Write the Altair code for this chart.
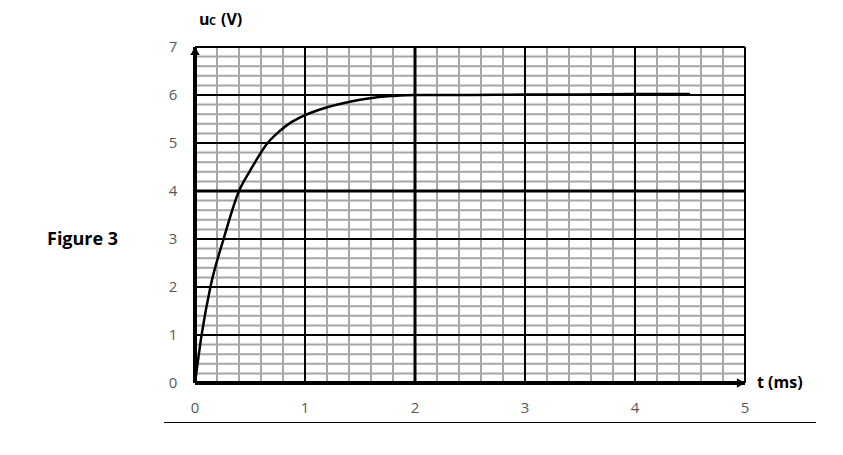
import altair as alt
import pandas as pd

# curve
t_ms = [0, 0.06, 0.14, 0.26, 0.40, 0.50, 0.66, 0.77, 0.88, 1.0, 1.21, 1.43, 1.64, 1.8, 2.0, 2.5, 3.0, 3.5, 4.0, 4.5]
u_c = [0, 1.0, 2.0, 3.0, 4.0, 4.42, 5.0, 5.25, 5.44, 5.58, 5.75, 5.87, 5.95, 5.98, 6.0, 6.0, 6.01, 6.01, 6.02, 6.02]

x_ticks = [0, 1, 2, 3, 4, 5]
y_ticks = [0, 1, 2, 3, 4, 5, 6, 7]
x_minor = [round(i * 0.2, 1) for i in range(1, 25) if i % 5 != 0]
y_minor = [round(i * 0.2, 1) for i in range(1, 35) if i % 5 != 0]
x_major_inner = [1, 3, 4]
y_major_inner = [1, 2, 3, 5, 6]
x_thick = [2]
y_thick = [4]

W, H = 550, 336
XD, YD = [0, 5], [0, 7]
FONT = "Open Sans"

xs = alt.Scale(domain=XD, nice=False, zero=False)
ys = alt.Scale(domain=YD, nice=False, zero=False)
XA = dict(scale=xs, axis=None)
YA = dict(scale=ys, axis=None)

curve = pd.DataFrame({"t": t_ms, "u": u_c})


def segments(xv, yv):
    """Vertical lines at xv and horizontal lines at yv, as explicit segments in data units."""
    rows = [{"x1": v, "x2": v, "y1": YD[0], "y2": YD[1]} for v in xv]
    rows += [{"x1": XD[0], "x2": XD[1], "y1": v, "y2": v} for v in yv]
    return pd.DataFrame(rows)


def grid(xv, yv, color, width):
    return alt.Chart(segments(xv, yv)).mark_rule(color=color, strokeWidth=width).encode(
        x=alt.X("x1:Q", **XA), x2="x2:Q", y=alt.Y("y1:Q", **YA), y2="y2:Q")


layers = [
    grid(x_minor, y_minor, "#a6a6a6", 2),
    grid(x_major_inner, y_major_inner, "black", 2),
    grid(x_thick, y_thick, "black", 3),
    grid([5], [7], "black", 2),
    grid([0], [0], "black", 4),
]

# tick labels drawn as text through the scales
x_labels = alt.Chart(pd.DataFrame({"xl": x_ticks})).mark_text(
    font=FONT, fontSize=15, color="#595959", baseline="middle", align="center").encode(
    x=alt.X("xl:Q", **XA), y=alt.value(H + 25), text=alt.Text("xl:Q"))
y_labels = alt.Chart(pd.DataFrame({"yl": y_ticks})).mark_text(
    font=FONT, fontSize=15, color="#595959", baseline="middle", align="center").encode(
    y=alt.Y("yl:Q", **YA), x=alt.value(-22), text=alt.Text("yl:Q"))

# arrow heads
arr_x = alt.Chart(pd.DataFrame({"ax": [5], "ay": [0]})).mark_point(
    shape="triangle-right", filled=True, color="black", size=90, opacity=1, xOffset=-4).encode(
    x=alt.X("ax:Q", **XA), y=alt.Y("ay:Q", **YA))
arr_y = alt.Chart(pd.DataFrame({"ax": [0], "ay": [7]})).mark_point(
    shape="triangle-up", filled=True, color="black", size=90, opacity=1, yOffset=4).encode(
    x=alt.X("ax:Q", **XA), y=alt.Y("ay:Q", **YA))

line = alt.Chart(curve).mark_line(color="black", strokeWidth=2.5, interpolate="monotone").encode(
    x=alt.X("t:Q", **XA), y=alt.Y("u:Q", **YA))


def label(txt, x, y, size, align="left", weight="bold", color="black", baseline="middle"):
    return alt.Chart(pd.DataFrame({"lbl": [txt]})).mark_text(
        font=FONT, fontSize=size, fontWeight=weight, color=color, align=align, baseline=baseline).encode(
        x=alt.value(x), y=alt.value(y), text="lbl:N")


texts = [
    label("Figure 3", -148, 193, 18),
    label("u", 4, -22, 16, baseline="alphabetic"),
    label("C", 14, -22, 11, baseline="alphabetic"),
    label("(V)", 26, -22, 16, baseline="alphabetic"),
    label("t (ms)", 562, H, 16),
]

bottom_line = alt.Chart(pd.DataFrame({"b": [0]})).mark_rule(color="black", strokeWidth=1).encode(
    x=alt.value(-31), x2=alt.value(621), y=alt.value(375.5), y2=alt.value(375.5))

chart = alt.layer(*layers, arr_x, arr_y, line, x_labels, y_labels, *texts, bottom_line).properties(
    width=W, height=H,
    padding={"left": 187, "top": 39, "right": 80, "bottom": 56},
    autosize=alt.AutoSizeParams(type="none"),
).configure_view(stroke=None)

chart.save("out.html", embed_options={"renderer": "svg", "actions": False})
